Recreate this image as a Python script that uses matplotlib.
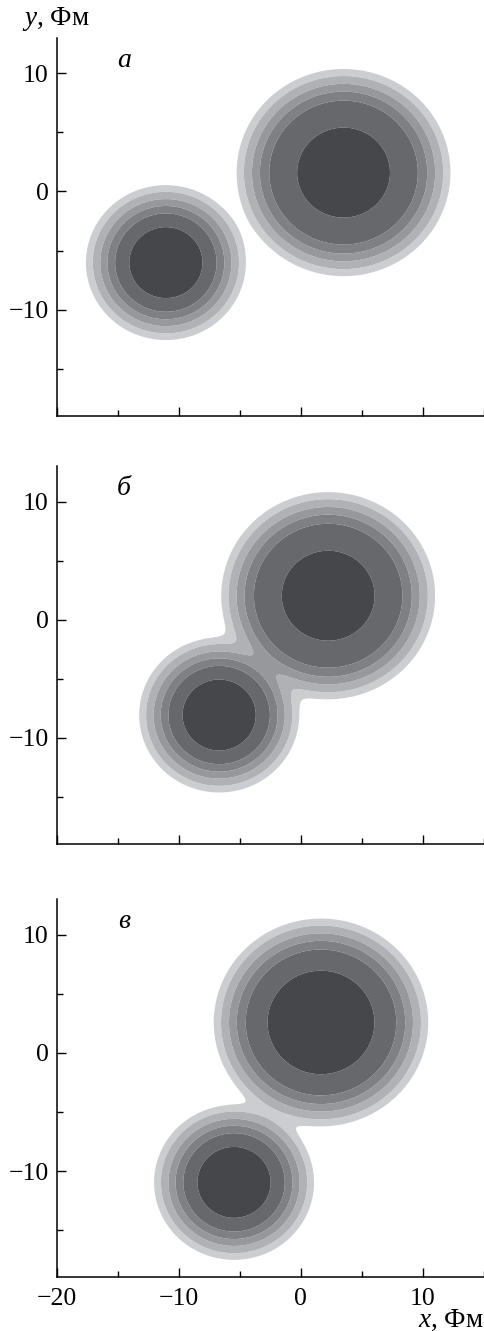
import matplotlib.pyplot as plt
import numpy as np

plt.rcParams['font.family'] = ['Liberation Serif', 'DejaVu Serif']
plt.rcParams['mathtext.fontset'] = 'custom'
plt.rcParams['mathtext.it'] = 'Liberation Serif:italic'
plt.rcParams['mathtext.rm'] = 'Liberation Serif'

# nucleus centres (fm) for the three stages of the approach
panel_labels = ['а', 'б', 'в']
heavy_x = [3.5, 2.24, 1.65]
heavy_y = [1.6, 2.04, 2.58]
light_x = [-11.07, -6.70, -5.48]
light_y = [-6.02, -8.06, -10.96]

# Woods-Saxon parameters: radius, diffuseness, central density
heavy_R, heavy_a = 7.0, 0.9
heavy_rho0 = [1.0, 1.0, 1.025]
light_R, light_a, light_rho0 = 4.76, 0.867, 1.1
overlap_p = 2.0

levels = [0.123, 0.214, 0.362, 0.539, 0.733, 0.972, 10.0]
shades = ['#cccdd0', '#b0b1b5', '#97989c', '#7f8084', '#67686b', '#46474a']


def woods_saxon(X, Y, x0, y0, R, a, rho0):
    r = np.hypot(X - x0, Y - y0)
    return rho0 / (1.0 + np.exp((r - R) / a))


xs = np.linspace(-20, 15, 700)
ys = np.linspace(-19, 13, 640)
X, Y = np.meshgrid(xs, ys)

fig = plt.figure(figsize=(4.85, 13.31), dpi=100)
bottoms = [0.6875, 0.3657, 0.0403]

for i in range(3):
    ax = fig.add_axes([0.1175, bottoms[i], 0.88, 0.284])
    rho1 = woods_saxon(X, Y, heavy_x[i], heavy_y[i], heavy_R, heavy_a, heavy_rho0[i])
    rho2 = woods_saxon(X, Y, light_x[i], light_y[i], light_R, light_a, light_rho0)
    rho = (rho1 ** overlap_p + rho2 ** overlap_p) ** (1.0 / overlap_p)
    ax.contourf(X, Y, rho, levels=levels, colors=shades, antialiased=True)

    ax.set_xlim(-20, 15)
    ax.set_ylim(-19, 13)
    ax.spines['top'].set_visible(False)
    ax.spines['right'].set_visible(False)
    for s in ['left', 'bottom']:
        ax.spines[s].set_linewidth(1.1)
    ax.set_xticks([-20, -10, 0, 10])
    ax.set_xticks([-15, -5, 5, 15], minor=True)
    ax.set_yticks([-10, 0, 10])
    ax.set_yticks([-15, -5, 5], minor=True)
    ax.tick_params(which='both', direction='in', width=1.0, labelsize=18.5)
    ax.tick_params(which='major', length=6.5)
    ax.tick_params(which='minor', length=4.5)
    ax.tick_params(axis='y', pad=6)
    ax.tick_params(axis='x', pad=8)
    if i < 2:
        ax.tick_params(axis='x', labelbottom=False)

    ax.text(-14.5, 11.1, panel_labels[i], fontsize=20, fontstyle='italic',
            ha='center', va='center')

fig.text(0.046, 0.981, r'$y$, Фм', fontsize=19.5, ha='left', va='baseline')
fig.text(0.997, 0.003, r'$x$, Фм', fontsize=19.5, ha='right', va='baseline')

fig.savefig('out.png', dpi=100)
